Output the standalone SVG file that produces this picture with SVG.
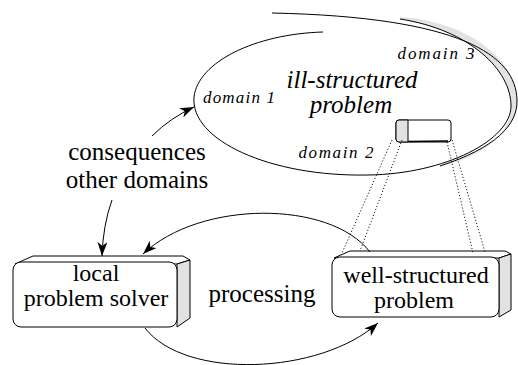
<svg xmlns="http://www.w3.org/2000/svg" width="518" height="365" viewBox="0 0 518 365">
<style>
text{font-family:'Liberation Serif','DejaVu Serif',serif}
.t{fill:#000;text-anchor:middle}
.big{font-size:25px}
.box{font-size:24px}
.it{font-style:italic;font-size:25px}
.dom{font-style:italic;font-size:17px}
.ln{fill:none;stroke:#000;stroke-width:1}
.dot{fill:none;stroke:#000;stroke-width:0.9;stroke-dasharray:1.2 2}
.face{fill:#fff;stroke:#000;stroke-width:1}
.side{fill:#e2e2e2;stroke:#000;stroke-width:1}
</style>
<defs>
<marker id="ah" viewBox="0 0 14 10" refX="14" refY="5" markerWidth="14" markerHeight="10" markerUnits="userSpaceOnUse" orient="auto">
<path d="M14,5 L0,0 L4,5 L0,10 Z" fill="#000"/>
</marker>
</defs>

<g id="ill-structured">
<path d="M440,166 C495,148 518,125 517,100 C516,55 460,20 400,17 L400,19 C470,30 511,70 511,106 C511,135 480,158 440,166 Z" fill="#e2e2e2" stroke="none"/>
<path class="ln" d="M323,32 C255,34 198,62 194,97 C190,140 270,177 368,175 C445,174 511,140 511,106 C511,70 470,30 400,19"/>
<path class="ln" d="M440,166 C495,148 518,125 517,100 C516,55 460,17 272,13"/>
<text class="t it" x="352" y="88">ill-structured</text>
<text class="t it" x="351" y="113">problem</text>
<text class="t dom" x="239" y="103" textLength="72">domain 1</text>
<text class="t dom" x="436" y="59" textLength="77">domain 3</text>
<text class="t dom" x="336" y="158" textLength="75">domain 2</text>
</g>

<g id="small-box">
<rect class="face" x="396" y="120" width="55" height="22" rx="3"/>
<path class="side" d="M399,120 L408,120 L408,142 L399,142 Q396,142 396,139 L396,123 Q396,120 399,120 Z"/>
<line x1="408" y1="141.5" x2="448" y2="141" stroke="#000" stroke-width="1.5"/>
</g>

<g id="local-solver">
<path class="face" d="M15,264 L33,256 L183,256 L190,260 L177,264 Z"/>
<path class="side" d="M177,264 L190,260 L190,318 L177,327 Z"/>
<rect class="face" x="13" y="262" width="164" height="65" rx="8"/>
<text class="t box" x="96" y="281">local</text>
<text class="t box" x="96" y="306">problem solver</text>
</g>

<g id="well-structured">
<path class="face" d="M334,258 L350,251 L505,251 L511,254 L499,258 Z"/>
<path class="side" d="M499,258 L511,254 L511,310 L499,317 Z"/>
<rect class="face" x="332" y="257" width="167" height="60" rx="8"/>
<text class="t box" x="416" y="283">well-structured</text>
<text class="t box" x="414" y="308">problem</text>
</g>

<g id="labels">
<text class="t big" x="137" y="160">consequences</text>
<text class="t big" x="137" y="188">other domains</text>
<text class="t big" x="262" y="302">processing</text>
</g>

<g id="connectors">
<path class="dot" d="M392,140 L342,253"/>
<path class="dot" d="M402,140 L360,251"/>
<path class="dot" d="M447,142 L473,253"/>
<path class="dot" d="M452,140 L485,252"/>
<path class="ln" d="M152,136 Q170,118 194,107" marker-end="url(#ah)"/>
<path class="ln" d="M112,200 Q103,225 102,256" marker-end="url(#ah)"/>
<path class="ln" d="M370,252 C330,200 200,200 143,254" marker-end="url(#ah)"/>
<path class="ln" d="M145,328 C185,380 320,375 378,323" marker-end="url(#ah)"/>
</g>
</svg>
